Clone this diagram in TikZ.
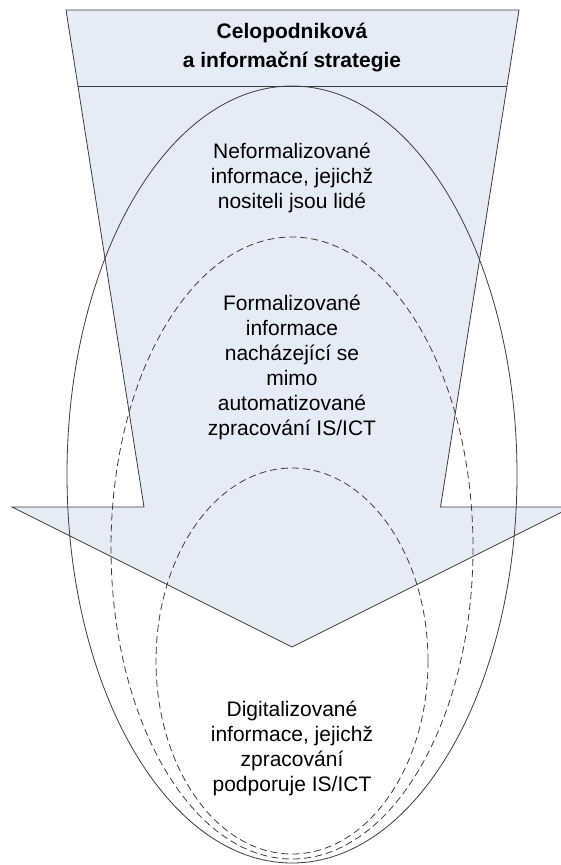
\documentclass[tikz,border=0pt]{standalone}
\usepackage{fontspec}
\setmainfont{Liberation Sans}
\definecolor{arrowfill}{RGB}{230,236,247}
\definecolor{linegray}{RGB}{60,60,60}
\begin{document}
\begin{tikzpicture}[x=1pt,y=-1pt,
  outline/.style={draw=linegray, line width=0.8pt},
  dashedell/.style={draw=linegray, line width=0.8pt, dash pattern=on 7pt off 4pt},
  lbl/.style={align=center, font=\fontsize{21}{25}\selectfont, text=black, inner sep=0pt},
  hdr/.style={align=center, font=\bfseries\fontsize{21}{29}\selectfont, text=black, inner sep=0pt}]
\useasboundingbox (0,0) rectangle (560,865);
% big arrow
\filldraw[fill=arrowfill, outline, line join=miter]
  (66,10) -- (519,10) -- (440.5,507) -- (572,507) -- (292,647) -- (12,507) -- (144,507) -- cycle;
\draw[outline] (78,86) -- (507,86);
% ellipses
\draw[outline] (292,474.5) ellipse [x radius=225, y radius=388.5];
\draw[dashedell] (292,548) ellipse [x radius=181, y radius=311];
\draw[dashedell] (292,661) ellipse [x radius=136, y radius=193];
% texts
\node[hdr] (strat) at (292,48) {Celopodniková\\a informační strategie};
\node[lbl] (neform) at (292,178) {Neformalizované\\informace, jejichž\\nositeli jsou lidé};
\node[lbl] (form) at (292,367) {Formalizované\\informace\\nacházející se\\mimo\\automatizované\\zpracování IS/ICT};
\node[lbl] (digi) at (292,748) {Digitalizované\\informace, jejichž\\zpracování\\podporuje IS/ICT};
\end{tikzpicture}
\end{document}
